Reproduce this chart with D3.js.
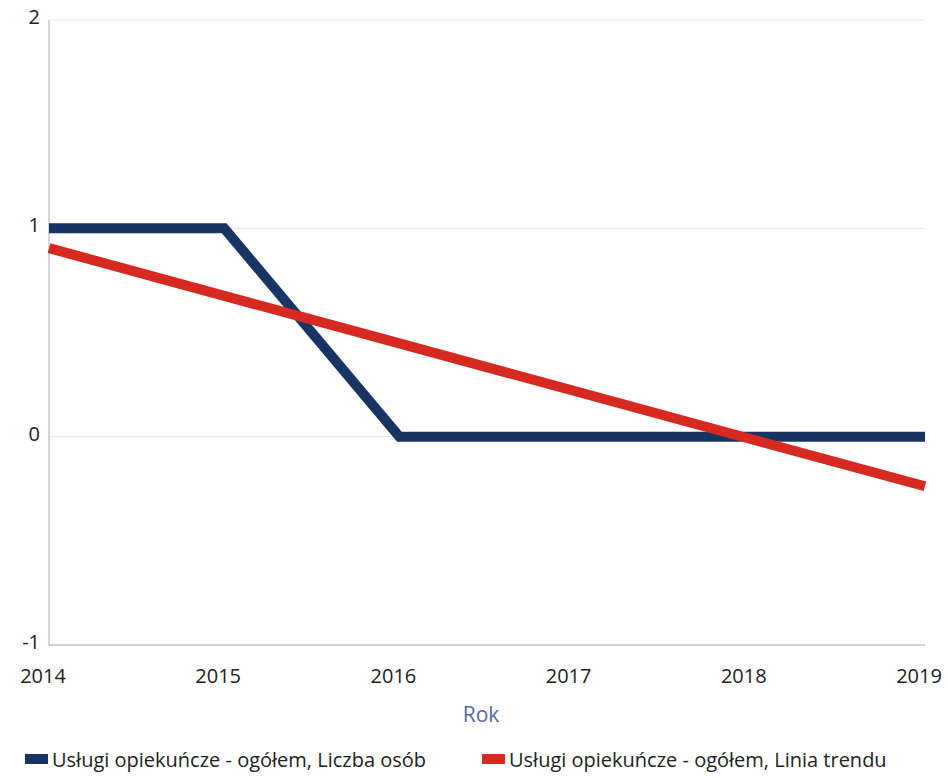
<!DOCTYPE html>
<html><head><meta charset="utf-8">
<script src="https://cdn.jsdelivr.net/npm/d3@7"></script>
<style>body{margin:0;background:#fff;}svg{display:block;font-family:"Open Sans",sans-serif;}</style>
</head><body><svg id="c" width="948" height="778"></svg>
<script>
const years = [2014, 2015, 2016, 2017, 2018, 2019];
const liczbaOsob = [1, 1, 0, 0, 0, 0];
const liniaTrendu = [0.905, 0.676, 0.448, 0.219, -0.010, -0.238];
const yTicks = [-1, 0, 1, 2];
const seriesNames = ["Usługi opiekuńcze - ogółem, Liczba osób", "Usługi opiekuńcze - ogółem, Linia trendu"];
const colors = ["#173463", "#d62a20"];

const svg = d3.select("#c");
const m = {l: 49, r: 925, t: 20, b: 645};
const x = d3.scaleLinear().domain([2014, 2019]).range([m.l, m.r]);
const y = d3.scaleLinear().domain([-1, 2]).range([m.b, m.t]);

// gridlines
svg.append("g").selectAll("line").data(yTicks.filter(d => d > -1)).join("line")
  .attr("x1", m.l).attr("x2", m.r).attr("y1", d => y(d)).attr("y2", d => y(d))
  .attr("stroke", "#e3e5ec").attr("stroke-width", 1);

// axes lines
svg.append("line").attr("x1", m.l).attr("x2", m.l).attr("y1", m.t).attr("y2", m.b).attr("stroke", "#a9adbd");
svg.append("line").attr("x1", m.l).attr("x2", m.r).attr("y1", m.b).attr("y2", m.b).attr("stroke", "#9ea3bb");

// y tick labels
svg.append("g").selectAll("text").data(yTicks).join("text")
  .attr("x", 40).attr("y", d => y(d) + 4).attr("text-anchor", "end")
  .attr("font-size", 20).attr("fill", "#222").text(d => d);

// x tick labels
svg.append("g").selectAll("text").data(years).join("text")
  .attr("x", d => x(d) - 6).attr("y", 683).attr("text-anchor", "middle")
  .attr("font-size", 20).attr("fill", "#222").text(d => d);

svg.append("text").attr("x", 481).attr("y", 722).attr("text-anchor", "middle")
  .attr("font-size", 21).attr("fill", "#5a68a6").text("Rok");

const line = d3.line().x((d, i) => x(years[i])).y(d => y(d));
svg.append("path").datum(liczbaOsob).attr("d", line).attr("fill", "none")
  .attr("stroke", colors[0]).attr("stroke-width", 10).attr("stroke-linejoin", "miter");
svg.append("path").datum(liniaTrendu).attr("d", line).attr("fill", "none")
  .attr("stroke", colors[1]).attr("stroke-width", 10);

// legend
const lg = svg.append("g");
const lx = [25, 482];
seriesNames.forEach((n, i) => {
  lg.append("rect").attr("x", lx[i]).attr("y", 754).attr("width", 23).attr("height", 10).attr("fill", colors[i]);
  lg.append("text").attr("x", lx[i] + 27).attr("y", 767).attr("font-size", 20).attr("fill", "#222").text(n);
});
</script></body></html>
